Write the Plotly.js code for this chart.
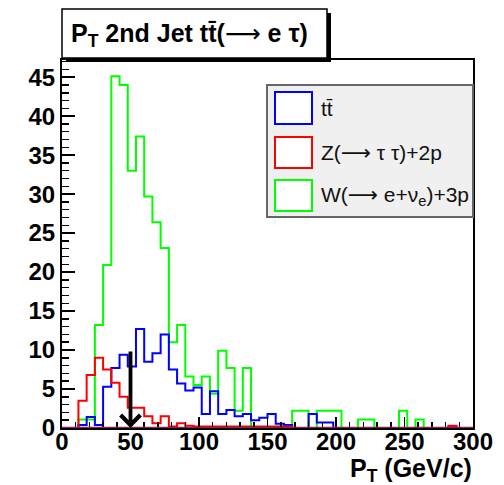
<!DOCTYPE html>
<html>
<head>
<meta charset="utf-8">
<script src="https://cdn.plot.ly/plotly-3.0.1.min.js"></script>
<style>
  html, body { margin: 0; padding: 0; background: #ffffff; }
  #plot { width: 504px; height: 485px; }
</style>
</head>
<body>
<div id="plot"></div>
<script>
// Second-jet transverse momentum, 6 GeV/c bins from 0 to 300 GeV/c
const binWidth = 6;
const nBins = 50;

// t tbar signal
const ttbarCounts = [0, 0, 0.4, 1.4, 0.4, 5.3, 7.7, 9.4, 7.9, 12.7,
                     8.5, 9.6, 12.0, 7.5, 5.7, 4.8, 5.2, 1.8, 4.7, 1.8,
                     2.3, 1.5, 1.8, 1.0, 1.3, 1.8, 0.55, 0.4, 0, 0,
                     1.8, 0.7, 0.7, 0, 0, 0, 0, 0, 0, 0,
                     0, 0, 0, 0, 0, 0, 0, 0.1, 0, 0];

// Z -> tau tau + 2 partons
const zCounts = [0, 0, 3.5, 6.8, 9.0, 7.5, 5.8, 4.0, 2.6, 2.6,
                 1.5, 0.6, 1.5, 0.2, 0.6, 0.3, 0.2, 0.2, 0.2, 0.2,
                 0.2, 0.2, 0.2, 0.2, 0.2, 0.2, 0.2, 0.2, 0, 0,
                 0, 0, 0, 0, 0, 0, 0, 0, 0, 0,
                 0, 0, 0, 0, 0, 0, 0, 0.3, 0, 0];

// W -> e nu + 3 partons
const wCounts = [0, 0, 1.1, 1.1, 13.2, 20.9, 45.1, 44.0, 33.0, 37.4,
                 29.7, 26.4, 23.1, 11.0, 13.2, 6.6, 5.5, 6.6, 4.4, 9.9,
                 7.7, 2.2, 7.7, 0, 0, 0, 0, 0, 2.2, 2.2,
                 0, 2.2, 2.2, 2.2, 0, 0, 1.1, 1.1, 0, 0,
                 0, 2.2, 0, 1.1, 0, 0, 0, 0, 0, 0];

// long thin arrow glyph used in the labels
const ARROW = '<span style="font-family:\'DejaVu Sans\';font-weight:normal">\u27f6</span>';

const seriesNames = ['tt\u0304', 'Z(' + ARROW + ' \u03c4 \u03c4)+2p', 'W(' + ARROW + ' e+\u03bd<sub>e</sub>)+3p'];
const seriesColors = ['#0000ff', '#ff0000', '#00ff00'];

const xTickLabels = ['0', '50', '100', '150', '200', '250', '300'];
const yTickLabels = ['0', '5', '10', '15', '20', '25', '30', '35', '40', '45'];

const cutValue = 50;     // selection cut marked by the arrow
const cutArrowTop = 10;

// outline of a histogram, closed down to zero at both ends
function stepOutline(counts) {
  const xs = [0], ys = [0];
  for (let i = 0; i < counts.length; i++) {
    xs.push(i * binWidth);
    ys.push(counts[i]);
  }
  xs.push(nBins * binWidth);
  ys.push(0);
  return { xs, ys };
}

function histTrace(counts, color, name) {
  const o = stepOutline(counts);
  return {
    type: 'scatter', mode: 'lines', name: name,
    x: o.xs, y: o.ys,
    line: { shape: 'hv', color: color, width: 2 },
    hoverinfo: 'skip'
  };
}

const traces = [
  histTrace(wCounts, seriesColors[2], seriesNames[2]),
  histTrace(ttbarCounts, seriesColors[0], seriesNames[0]),
  histTrace(zCounts, seriesColors[1], seriesNames[1])
];

// pixel helpers for the frame: plot area spans x 62..473, y 60..428
const L = 62, R = 473, T = 60, B = 428;
const px = x => (x - L) / (R - L);
const py = y => (B - y) / (B - T);

const boldFont = { family: 'Liberation Sans, Arial, sans-serif', size: 24, weight: 'bold', color: '#000' };
const titleFont = { family: 'Liberation Sans, Arial, sans-serif', size: 25, weight: 'bold', color: '#000' };
const legendFont = { family: 'Liberation Sans, Arial, sans-serif', size: 21, color: '#111' };

const shapes = [
  // title pave with its drop shadow
  { type: 'rect', xref: 'paper', yref: 'paper', x0: px(66), x1: px(331), y0: py(62), y1: py(13),
    fillcolor: '#000', line: { width: 0 } },
  { type: 'rect', xref: 'paper', yref: 'paper', x0: px(62), x1: px(327), y0: py(58), y1: py(9),
    fillcolor: '#fff', line: { color: '#000', width: 1.5 } },
  // legend box
  { type: 'rect', xref: 'paper', yref: 'paper', layer: 'above', x0: px(267), x1: px(473), y0: py(217), y1: py(85),
    fillcolor: '#f0f0f0', line: { color: '#666', width: 2 } },
  // baseline where all three outlines sit at zero
  { type: 'line', xref: 'x', yref: 'y', layer: 'above', x0: 0, x1: nBins * binWidth, y0: 0, y1: 0,
    line: { color: '#8a1f55', width: 2.5 } }
];

const legendRows = [[92, 124], [137, 168], [180, 211]];
const legendOrder = [0, 1, 2];
const annotations = [];

legendOrder.forEach((s, k) => {
  const [top, bottom] = legendRows[k];
  shapes.push({ type: 'rect', xref: 'paper', yref: 'paper', layer: 'above',
    x0: px(275), x1: px(312), y0: py(bottom), y1: py(top),
    fillcolor: '#fff', line: { color: seriesColors[s], width: 2 } });
  annotations.push({ xref: 'paper', yref: 'paper', x: px(319), y: py((top + bottom) / 2),
    xanchor: 'left', yanchor: 'middle', showarrow: false,
    text: seriesNames[s], font: legendFont });
});

// title text
annotations.push({ xref: 'paper', yref: 'paper', x: px(69), y: py(35),
  xanchor: 'left', yanchor: 'middle', showarrow: false,
  text: 'P<sub>T</sub> 2nd Jet tt\u0304(' + ARROW + ' e \u03c4)', font: titleFont });

// x axis title, right-aligned under the frame
annotations.push({ xref: 'paper', yref: 'paper', x: px(474), y: py(470),
  xanchor: 'right', yanchor: 'middle', showarrow: false,
  text: 'P<sub>T</sub> (GeV/c)', font: titleFont });

// cut arrow
annotations.push({ xref: 'x', yref: 'y', axref: 'x', ayref: 'y',
  x: cutValue, y: 0, ax: cutValue, ay: cutArrowTop, text: '',
  showarrow: true, arrowhead: 4, arrowsize: 1, arrowwidth: 3.8, arrowcolor: '#000', standoff: 0 });

const layout = {
  width: 504, height: 485,
  margin: { l: L, r: 504 - R, t: T, b: 485 - B, pad: 0 },
  paper_bgcolor: '#fff', plot_bgcolor: '#fff',
  showlegend: false,
  xaxis: {
    range: [0, 300], tickmode: 'array',
    tickvals: xTickLabels.map(Number), ticktext: xTickLabels,
    ticks: 'inside', ticklen: 11, tickwidth: 1.5, tickcolor: '#000',
    ticklabelstandoff: -9,
    minor: { dtick: 10, ticks: 'inside', ticklen: 6, tickwidth: 1.5, tickcolor: '#000', showgrid: false },
    showline: true, linecolor: '#000', linewidth: 2, mirror: true,
    showgrid: false, zeroline: false, tickfont: boldFont
  },
  yaxis: {
    range: [0, 47.2], tickmode: 'array',
    tickvals: yTickLabels.map(Number), ticktext: yTickLabels,
    ticks: 'inside', ticklen: 13, tickwidth: 1.5, tickcolor: '#000',
    minor: { dtick: 1, ticks: 'inside', ticklen: 7, tickwidth: 1.5, tickcolor: '#000', showgrid: false },
    showline: true, linecolor: '#000', linewidth: 2, mirror: true,
    showgrid: false, zeroline: false, tickfont: boldFont
  },
  shapes: shapes,
  annotations: annotations
};

Plotly.newPlot('plot', traces, layout, { staticPlot: true });
</script>
</body>
</html>
